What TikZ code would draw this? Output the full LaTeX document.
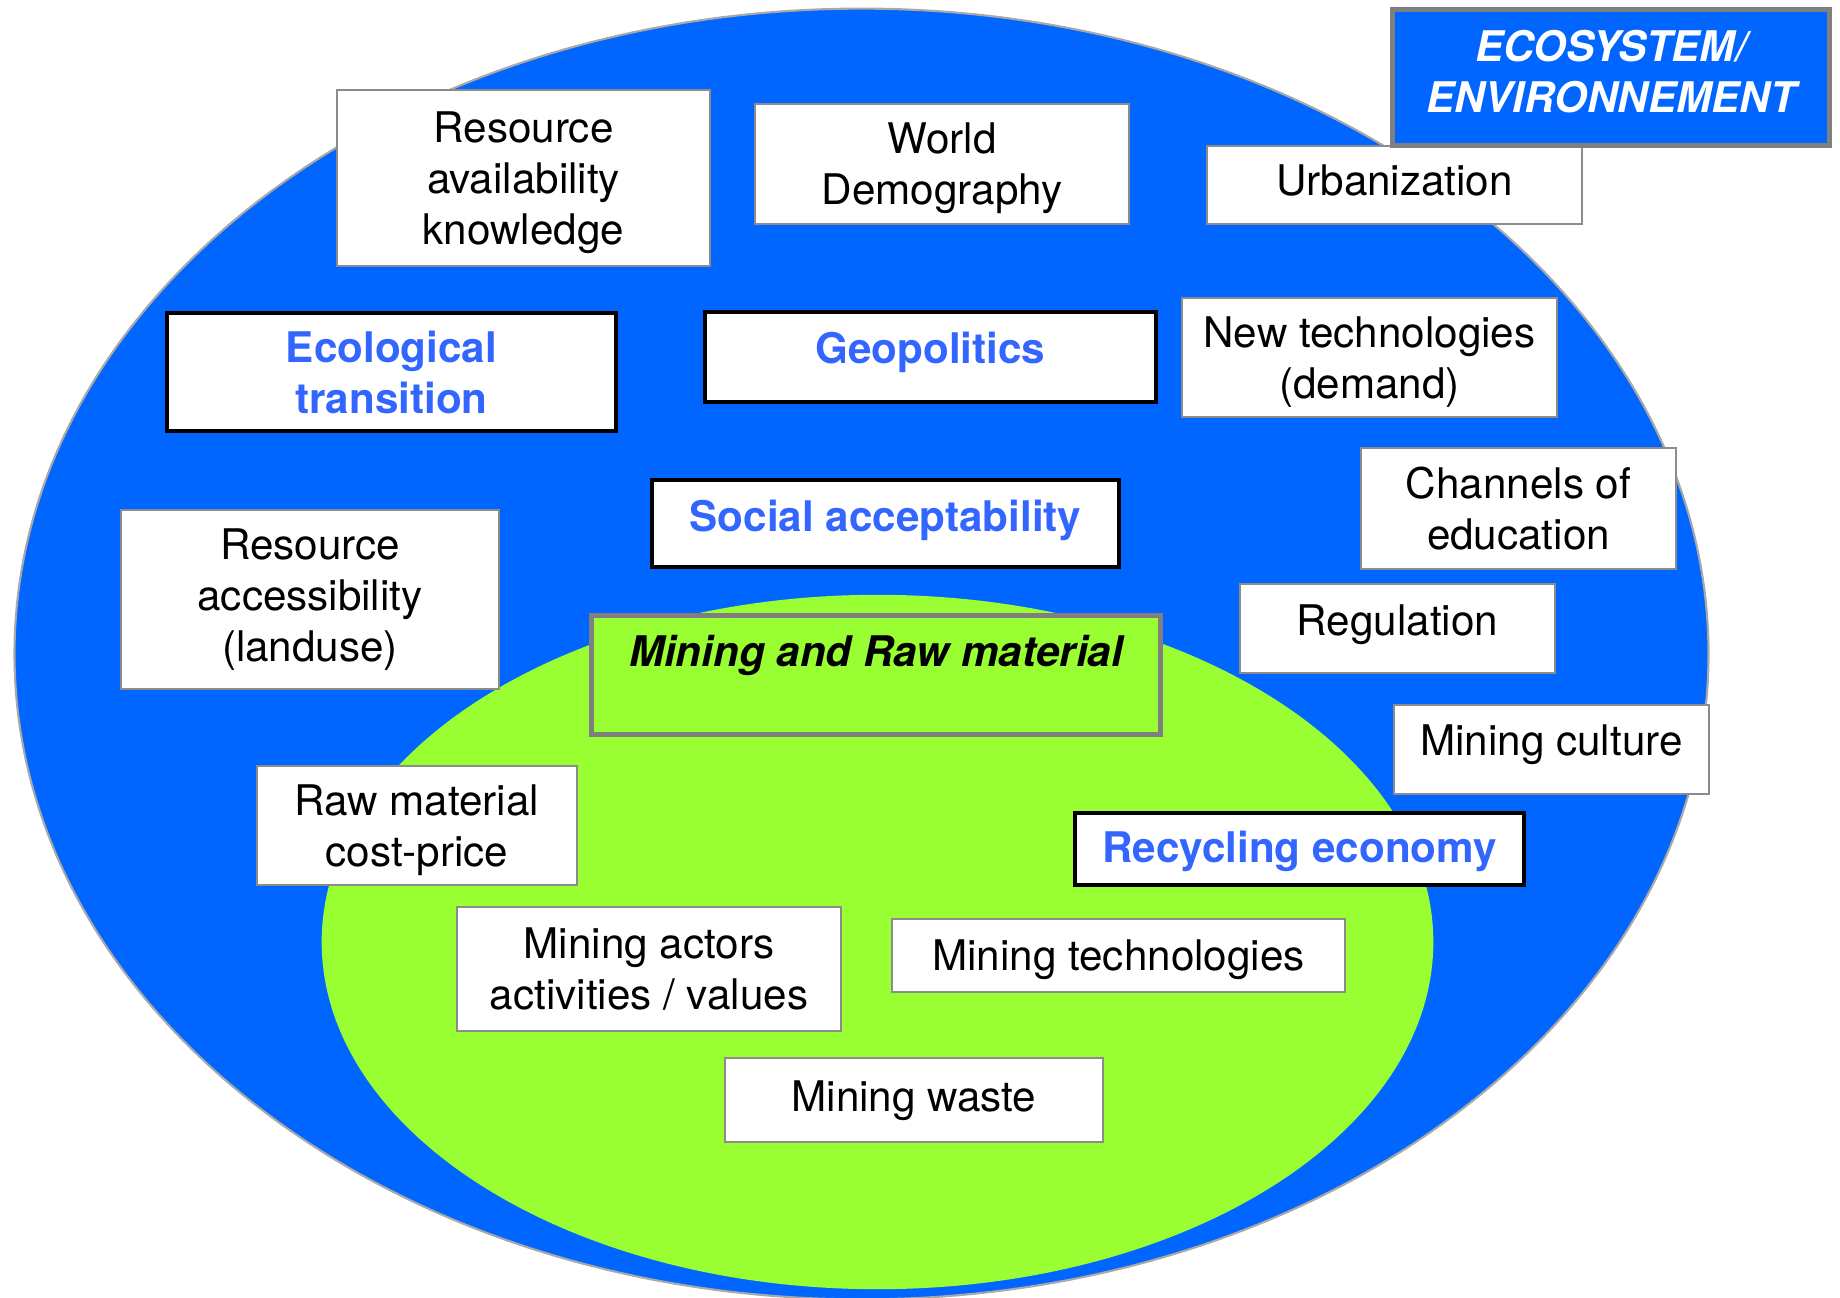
\documentclass[tikz,border=0pt]{standalone}
\usepackage{fontspec}
\setmainfont{TeX Gyre Heros}
\definecolor{ecoblue}{HTML}{0066FF}
\definecolor{minegreen}{HTML}{99FF33}
\definecolor{keyblue}{HTML}{3366FF}
\definecolor{boxgray}{HTML}{8C8C8C}
\definecolor{framegray}{HTML}{7F7F7F}
\definecolor{ringgray}{HTML}{A8A8A8}
% a last line whose descenders do not move the block
\newcommand{\flatline}[1]{\smash{#1}}
\begin{document}
\begin{tikzpicture}[x=0.01cm, y=-0.01cm,
  txt/.style={font=\fontsize{12}{14.5}\selectfont, align=center, inner sep=0pt},
  sz/.style 2 args={minimum width=#1*0.01cm, minimum height=#2*0.01cm},
  lift/.style={text height=8.6pt, text depth=#1},
  plainbox/.style={txt, draw=boxgray, line width=0.6pt, fill=white},
  keybox/.style={txt, draw=black, line width=1.4pt, fill=white, text=keyblue,
    font=\fontsize{12}{14.5}\selectfont\bfseries},
  framebox/.style={txt, draw=framegray, line width=1.45pt,
    font=\fontsize{12}{14.5}\selectfont\bfseries\itshape}
]
\useasboundingbox (0,0) rectangle (1840,1298);

% outer ecosystem and inner mining zone
\filldraw[fill=ecoblue, draw=ringgray, line width=0.6pt]
  (861.5,654) ellipse [x radius=8.465cm, y radius=6.45cm];
\fill[minegreen] (877.5,942) ellipse [x radius=5.555cm, y radius=3.47cm];

% upper row
\node[plainbox, sz={373}{176}] (avail) at (523.5,178)
  {Resource\\availability\\\flatline{knowledge}};
\node[plainbox, sz={374}{120}] (demo) at (942,164)
  {World\\\flatline{Demography}};
\node[plainbox, sz={375}{78}, lift=2.85pt] (urban) at (1394.5,185) {Urbanization};
\node[framebox, fill=ecoblue, text=white, sz={437}{136}] (eco) at (1611,77.5)
  {ECOSYSTEM/\\ENVIRONNEMENT\rule[-3.2pt]{0pt}{3.2pt}};

% second row
\node[keybox, sz={449}{118}] (ecotrans) at (391.5,372) {Ecological\\transition};
\node[keybox, sz={451}{90}, lift=4.84pt] (geo) at (930.5,357) {Geopolitics};
\node[plainbox, sz={375}{119}] (newtech) at (1369.5,357.5)
  {New technologies\\\flatline{(demand)}};

% middle band
\node[plainbox, sz={315}{121}] (educ) at (1518.5,508.5) {Channels of\\education};
\node[keybox, sz={467}{87}, lift=4.27pt] (social) at (885.5,523.5)
  {Social acceptability};
\node[plainbox, sz={378}{179}] (access) at (310,599.5)
  {Resource\\accessibility\\(landuse)};
\node[framebox, fill=minegreen, text=black, sz={569}{119}, lift=13.6pt] (mining)
  at (876,675) {Mining and Raw material};
\node[plainbox, sz={315}{89}, lift=4.84pt] (regul) at (1397.5,628.5) {Regulation};
\node[plainbox, sz={315}{89}, lift=5.1pt] (culture) at (1551.5,749.5)
  {Mining culture};

% inside the mining zone
\node[plainbox, sz={320}{119}] (price) at (417,825.5)
  {Raw material\\\flatline{cost-price}};
\node[keybox, sz={449}{72}, lift=1.14pt] (recycle) at (1299.5,849)
  {Recycling economy};
\node[plainbox, sz={384}{124}] (actors) at (649,969)
  {Mining actors\\activities / values};
\node[plainbox, sz={453}{73}, lift=0pt] (minetech) at (1118.5,955.5)
  {Mining technologies};
\node[plainbox, sz={378}{84}, lift=2.28pt] (waste) at (914,1100) {Mining waste};
\end{tikzpicture}
\end{document}
